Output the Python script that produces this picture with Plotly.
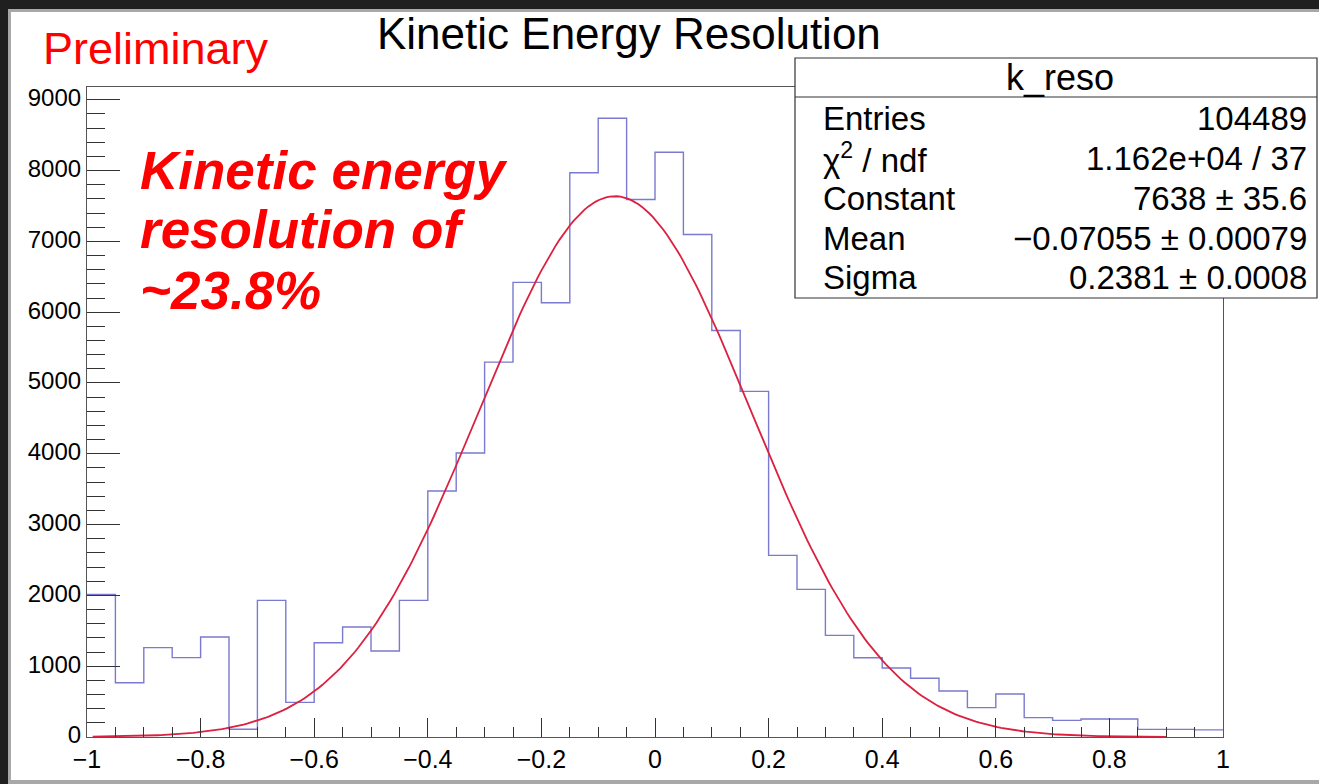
import numpy as np
import plotly.graph_objects as go

# ---------------- data ----------------
BIN_LOW = -1.0
BIN_WIDTH = 0.05
COUNTS = [2015, 767, 1262, 1121, 1412, 109, 1930, 489, 1332, 1553,
          1214, 1930, 3474, 4011, 5295, 6420, 6133, 7968, 8739, 7591,
          8259, 7097, 5742, 4881, 2565, 2085, 1435, 1120, 975, 829,
          650, 415, 607, 273, 235, 254, 254, 108, 108, 100]
BIN_EDGES = [round(BIN_LOW + BIN_WIDTH * i, 4) for i in range(len(COUNTS) + 1)]

FIT_CONST = 7638
FIT_MEAN = -0.07055
FIT_SIGMA = 0.2381
FIT_RANGE = (-0.99, 0.9)

X_TICKS = [-1, -0.8, -0.6, -0.4, -0.2, 0, 0.2, 0.4, 0.6, 0.8, 1]
X_TICK_TEXT = ["\u22121", "\u22120.8", "\u22120.6", "\u22120.4", "\u22120.2", "0", "0.2", "0.4", "0.6", "0.8", "1"]
Y_TICKS = [0, 1000, 2000, 3000, 4000, 5000, 6000, 7000, 8000, 9000]
Y_TICK_TEXT = [str(v) for v in Y_TICKS]

TITLE = "Kinetic Energy Resolution"
STAT_NAME = "k_reso"
STAT_LABELS = ["Entries", "\u03c7<sup>2</sup> / ndf", "Constant", "Mean", "Sigma"]
STAT_VALUES = ["104489", "1.162e+04 / 37", "7638 \u00b1 35.6",
               "\u22120.07055 \u00b1 0.00079", "0.2381 \u00b1 0.0008"]
NOTE_LINES = ["Kinetic energy", "resolution of", "~23.8%"]

# ---------------- geometry helpers ----------------
W, H = 1319, 784
ML, MR, MT, MB = 87, 96, 87, 47
PW, PH = W - ML - MR, H - MT - MB


def px(x):
    return (x - ML) / PW


def py(y):
    return (H - MB - y) / PH


FONT = "Liberation Sans, Arial, Helvetica, sans-serif"

# ---------------- traces ----------------
hist_x = BIN_EDGES
hist_y = COUNTS + [COUNTS[-1]]

fx = np.linspace(FIT_RANGE[0], FIT_RANGE[1], 300)
fy = FIT_CONST * np.exp(-0.5 * ((fx - FIT_MEAN) / FIT_SIGMA) ** 2)

fig = go.Figure()
fig.add_trace(go.Scatter(x=hist_x, y=hist_y, mode="lines", line_shape="hv",
                         line=dict(color="#7a7ad0", width=1.4), hoverinfo="skip",
                         showlegend=False))
fig.add_trace(go.Scatter(x=fx, y=fy, mode="lines",
                         line=dict(color="#dc2040", width=1.8), hoverinfo="skip",
                         showlegend=False))

fig.update_layout(
    width=W, height=H,
    margin=dict(l=ML, r=MR, t=MT, b=MB, pad=0),
    paper_bgcolor="white", plot_bgcolor="white",
    font=dict(family=FONT, color="black"),
    showlegend=False,
)

fig.update_xaxes(
    range=[-1, 1], tickvals=X_TICKS, ticktext=X_TICK_TEXT,
    ticks="inside", ticklen=19, tickwidth=1, tickcolor="#333",
    minor=dict(ticks="inside", ticklen=10, dtick=0.05, tick0=-1, tickcolor="#333", showgrid=False),
    showgrid=False, zeroline=False, showline=True, mirror=True,
    linecolor="#555", linewidth=1.2,
    tickfont=dict(size=25, family=FONT, color="black"),
)
fig.update_yaxes(
    range=[0, 9180], tickvals=Y_TICKS, ticktext=Y_TICK_TEXT,
    ticks="inside", ticklen=33, tickwidth=1, tickcolor="#333",
    minor=dict(ticks="inside", ticklen=18, dtick=200, tick0=0, tickcolor="#333", showgrid=False),
    showgrid=False, zeroline=False, showline=True, mirror=True,
    linecolor="#555", linewidth=1.2, ticklabelshift=-2,
    tickfont=dict(size=24, family=FONT, color="black"),
)

shapes = []
# screenshot border
shapes.append(dict(type="rect", xref="paper", yref="paper", x0=px(0), x1=px(8), y0=py(H), y1=py(0),
                   fillcolor="#1f1f1f", line=dict(width=0), layer="above"))
shapes.append(dict(type="rect", xref="paper", yref="paper", x0=px(8), x1=px(11), y0=py(H), y1=py(9),
                   fillcolor="#a8a8a8", line=dict(width=0), layer="above"))
shapes.append(dict(type="rect", xref="paper", yref="paper", x0=px(0), x1=px(W), y0=py(9), y1=py(0),
                   fillcolor="#1f1f1f", line=dict(width=0), layer="above"))
shapes.append(dict(type="rect", xref="paper", yref="paper", x0=px(8), x1=px(W), y0=py(12), y1=py(9),
                   fillcolor="#a8a8a8", line=dict(width=0), layer="above"))
shapes.append(dict(type="rect", xref="paper", yref="paper", x0=px(8), x1=px(W), y0=py(H), y1=py(780),
                   fillcolor="#a8a8a8", line=dict(width=0), layer="above"))
# stats box
shapes.append(dict(type="rect", xref="paper", yref="paper", x0=px(795), x1=px(1317), y0=py(298), y1=py(58),
                   fillcolor="white", line=dict(color="#333", width=1.2), layer="above"))
shapes.append(dict(type="line", xref="paper", yref="paper", x0=px(795), x1=px(1317), y0=py(97), y1=py(97),
                   line=dict(color="#333", width=1.2), layer="above"))
fig.update_layout(shapes=shapes)

ann = []
ann.append(dict(text=TITLE, x=px(629), y=py(33), xref="paper", yref="paper", showarrow=False,
                xanchor="center", yanchor="middle", font=dict(size=44, family=FONT, color="black")))
ann.append(dict(text="Preliminary", x=px(41), y=py(49), xref="paper", yref="paper", showarrow=False,
                xanchor="left", yanchor="middle", font=dict(size=45, family=FONT, color="#ff0000")))
for i, line in enumerate(NOTE_LINES):
    ann.append(dict(text="<b><i>" + line + "</i></b>", x=px(138), y=py(170 + 60 * i), xref="paper", yref="paper",
                    showarrow=False, xanchor="left", yanchor="middle",
                    font=dict(size=53, family=FONT, color="#ff0000")))
ann.append(dict(text=STAT_NAME, x=px(1060), y=py(77), xref="paper", yref="paper", showarrow=False,
                xanchor="center", yanchor="middle", font=dict(size=36, family=FONT, color="black")))
row_y = [118, 158, 199, 239, 277]
for lab, val, yy in zip(STAT_LABELS, STAT_VALUES, row_y):
    ann.append(dict(text=lab, x=px(821), y=py(yy), xref="paper", yref="paper", showarrow=False,
                    xanchor="left", yanchor="middle", font=dict(size=33, family=FONT, color="black")))
    ann.append(dict(text=val, x=px(1309), y=py(yy), xref="paper", yref="paper", showarrow=False,
                    xanchor="right", yanchor="middle", font=dict(size=33, family=FONT, color="black")))
fig.update_layout(annotations=ann)

fig.write_html("out.html")
